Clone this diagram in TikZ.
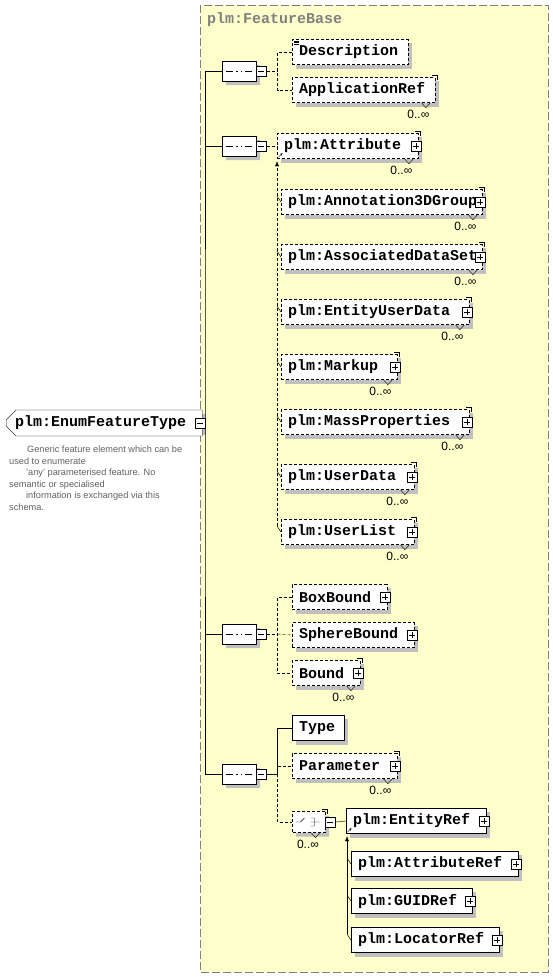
\documentclass[tikz,border=0pt]{standalone}
\usepackage{fontspec}
\setmainfont{Liberation Sans}
\newfontfamily\plmmono{Liberation Mono}
\usetikzlibrary{shapes.misc,arrows.meta}

\definecolor{fbyellow}{RGB}{255,255,204}
\definecolor{fbgray}{RGB}{128,128,128}
\definecolor{shgray}{RGB}{192,192,192}

\pgfdeclarelayer{back}
\pgfdeclarelayer{shade}
\pgfsetlayers{back,shade,main}

\tikzset{
  dsh/.style={dash pattern=on 3pt off 2pt},
  elem/.style={draw, fill=white, anchor=west, font=\plmmono\bfseries\fontsize{15}{15}\selectfont,
    minimum height=25pt, inner xsep=7pt, inner ysep=2pt, text width=#1, align=left},
  opt/.style={elem=#1, dsh},
  root/.style={draw, fill=white, anchor=west, chamfered rectangle, chamfered rectangle corners={north west,south west},
    chamfered rectangle xsep=5pt, chamfered rectangle ysep=5pt,
    font=\plmmono\bfseries\fontsize{15}{15}\selectfont, minimum height=20pt, inner xsep=4pt, inner ysep=1pt,
    text width=178pt, align=left},
  octa/.style={chamfered rectangle, chamfered rectangle xsep=7pt, chamfered rectangle ysep=7pt,
    minimum width=34pt, minimum height=20pt, inner sep=0pt},
  seqbox/.style={octa, draw, fill=white,
    path picture={
      \draw[solid] ([xshift=4pt]path picture bounding box.west) -- ([xshift=-4pt]path picture bounding box.east);
      \fill ([xshift=-4.2pt]path picture bounding box.center) +(-1.5pt,-1.5pt) rectangle +(1.5pt,1.5pt);
      \fill (path picture bounding box.center) +(-1.5pt,-1.5pt) rectangle +(1.5pt,1.5pt);
      \fill ([xshift=4.2pt]path picture bounding box.center) +(-1.5pt,-1.5pt) rectangle +(1.5pt,1.5pt);}},
  choice/.style={octa, draw, dsh, fill=white, minimum width=33pt, minimum height=21pt,
    path picture={
      \draw[solid] (path picture bounding box.center) +(-13pt,0pt) -- +(-8pt,0pt) -- +(-4pt,4pt)
        +(2pt,4pt) -- +(6pt,4pt) -- +(6pt,-4pt) -- +(2pt,-4pt) +(2pt,0pt) -- +(11pt,0pt);
      \fill (path picture bounding box.center) +(-1.5pt,2.5pt) rectangle +(1.5pt,5.5pt)
        +(-1.5pt,-1.5pt) rectangle +(1.5pt,1.5pt) +(-1.5pt,-5.5pt) rectangle +(1.5pt,-2.5pt);}},
  mbox/.style={draw, solid, fill=white, minimum size=10pt, inner sep=0pt,
    path picture={\draw ([xshift=2pt]path picture bounding box.west) -- ([xshift=-2pt]path picture bounding box.east);}},
  pbox/.style={draw, solid, fill=white, minimum size=10pt, inner sep=0pt,
    path picture={\draw ([xshift=2pt]path picture bounding box.west) -- ([xshift=-2pt]path picture bounding box.east)
      ([yshift=-2pt]path picture bounding box.north) -- ([yshift=2pt]path picture bounding box.south);}},
  card/.style={font=\fontsize{12}{12}\selectfont, inner sep=0pt},
  doc/.style={anchor=north west, font=\fontsize{9.2}{11.5}\selectfont, text=black!62, align=left, inner sep=0pt},
  fbframe/.style={fill=fbyellow, draw=fbgray, dash pattern=on 8pt off 3pt},
  fbtitle/.style={anchor=west, text=fbgray, font=\plmmono\bfseries\fontsize{15}{15}\selectfont, inner sep=0pt},
  subst/.style={-{Latex[length=5pt,width=4pt]}}
}

% plus box at the right end of an element
\newcommand\plusbox[1]{\node[pbox] (#1p) at ([xshift=-2pt]#1.east) {};}
% stacked corner, notch and 0..oo under an element
\newcommand\multi[1]{%
  \draw[solid] ([xshift=-3pt,yshift=2pt]#1.north east) -- ++(5pt,0pt) -- ++(0pt,-5pt);
  \draw[solid] ([xshift=-14pt]#1.south east) -- ++(4.5pt,-5pt) -- ++(4.5pt,5pt);
  \node[card] (#1c) at ([xshift=-17pt,yshift=-12pt]#1.south east) {0..∞};}

\begin{document}
\begin{tikzpicture}[x=1pt,y=-1pt,line width=0.8pt]
\useasboundingbox (0,0) rectangle (553,977);
\begin{pgfonlayer}{back}
\draw[fbframe] (200,5) rectangle (548,972);
\end{pgfonlayer}
\node[fbtitle] (fbtitle) at (207,20) {plm:FeatureBase};

% root element
\node[root] (root) at (6,423) {plm:EnumFeatureType};
\node[mbox] (rootm) at ([xshift=-2pt]root.east) {};
\node[doc] (rootdoc) at (9,446) {\hspace*{18pt}Generic feature element which can be\\used to enumerate\\
  \hspace*{17pt}'any' parameterised feature. No\\semantic or specialised\\
  \hspace*{17pt}information is exchanged via this\\schema.};
\coordinate (spine) at (205,423);

% first sequence
\node[seqbox] (seq1) at (239,71) {};
\node[mbox, anchor=west] (seq1m) at (seq1.east) {};
\node[opt=102pt] (desc) at (292,52) {Description};
\draw[line width=0.6pt] (desc.north west) ++(1.5pt,-1.5pt) -- ++(5pt,0pt) ++(-5pt,-1.8pt) -- ++(5pt,0pt) ++(-5pt,-1.8pt) -- ++(5pt,0pt);
\node[opt=129pt] (appref) at (292,90) {ApplicationRef};
\multi{appref}

% second sequence: substitution group
\node[seqbox] (seq2) at (239,146) {};
\node[mbox, anchor=west] (seq2m) at (seq2.east) {};
\node[opt=127pt] (attr) at (277,146) {plm:Attribute};
\plusbox{attr} \multi{attr}
\node[opt=187pt] (anno) at (281,202) {plm:Annotation3DGroup};
\plusbox{anno} \multi{anno}
\node[opt=187pt] (adata) at (281,257) {plm:AssociatedDataSet};
\plusbox{adata} \multi{adata}
\node[opt=174pt] (eud) at (281,312) {plm:EntityUserData};
\plusbox{eud} \multi{eud}
\node[opt=102pt] (markup) at (281,367) {plm:Markup};
\plusbox{markup} \multi{markup}
\node[opt=174pt] (mass) at (281,422) {plm:MassProperties};
\plusbox{mass} \multi{mass}
\node[opt=119pt] (udata) at (281,477) {plm:UserData};
\plusbox{udata} \multi{udata}
\node[opt=119pt] (ulist) at (281,532) {plm:UserList};
\plusbox{ulist} \multi{ulist}

% third sequence
\node[seqbox] (seq3) at (239,634) {};
\node[mbox, anchor=west] (seq3m) at (seq3.east) {};
\node[opt=81pt] (boxb) at (292,597) {BoxBound};
\plusbox{boxb}
\node[opt=108pt] (sphb) at (292,635) {SphereBound};
\plusbox{sphb}
\node[opt=54pt] (bound) at (292,673) {Bound};
\plusbox{bound} \multi{bound}

% fourth sequence
\node[seqbox] (seq4) at (239,774) {};
\node[mbox, anchor=west] (seq4m) at (seq4.east) {};
\node[elem=38pt] (type) at (292,728) {Type};
\node[opt=91pt] (param) at (292,766) {Parameter};
\plusbox{param} \multi{param}
\node[choice] (chc) at (308.5,822) {};
\node[mbox, anchor=west] (chcm) at (chc.east) {};
\multi{chc}
\node[elem=126pt] (eref) at (346,821) {plm:EntityRef};
\plusbox{eref}
\node[elem=153pt] (aref) at (351,864) {plm:AttributeRef};
\plusbox{aref}
\node[elem=107pt] (gref) at (351,901) {plm:GUIDRef};
\plusbox{gref}
\node[elem=134pt] (lref) at (351,940) {plm:LocatorRef};
\plusbox{lref}

% shadows
\begin{pgfonlayer}{shade}
\foreach \n in {root,desc,appref,attr,anno,adata,eud,markup,mass,udata,ulist,boxb,sphb,bound,type,param,eref,aref,gref,lref}
  \fill[shgray] ([shift={(4pt,-4pt)}]\n.south west) rectangle ([shift={(4pt,-4pt)}]\n.north east);
\foreach \n in {seq1,seq2,seq3,seq4}
  \node[octa, fill=shgray] (\n s) at ([shift={(4pt,-4pt)}]\n.center) {};
\node[octa, fill=shgray, minimum width=33pt, minimum height=21pt] (chcs) at ([shift={(4pt,-4pt)}]chc.center) {};
\end{pgfonlayer}

% connectors
\draw (rootm.east) -- (spine);
\draw (seq1.west) -| (spine) |- (seq4.west);
\draw (seq2.west) -- (seq2.west -| spine);
\draw (seq3.west) -- (seq3.west -| spine);

\draw[dsh] (seq1m.east) -- ++(11,0) coordinate (b1);
\draw[dsh] (desc.west) -| (b1) |- (appref.west);

\draw[dsh] (seq2m.east) -- (attr.west);
\coordinate (sub1) at ([yshift=-2.5pt]attr.south west);
\draw[dsh, subst] ([yshift=6pt]sub1 |- ulist.west) -- (sub1);
\draw[line width=0.5pt] (anno.west) -- ([yshift=6pt]sub1 |- anno.west);
\draw[line width=0.5pt] (adata.west) -- ([yshift=6pt]sub1 |- adata.west);
\draw[line width=0.5pt] (eud.west) -- ([yshift=6pt]sub1 |- eud.west);
\draw[line width=0.5pt] (markup.west) -- ([yshift=6pt]sub1 |- markup.west);
\draw[line width=0.5pt] (mass.west) -- ([yshift=6pt]sub1 |- mass.west);
\draw[line width=0.5pt] (udata.west) -- ([yshift=6pt]sub1 |- udata.west);
\draw[line width=0.5pt] (ulist.west) -- ([yshift=6pt]sub1 |- ulist.west);
\draw[-{Stealth[length=2.5pt,width=2.5pt]}] ([xshift=1.5pt,yshift=1.5pt]attr.south west) -- ++(4pt,4pt);

\draw[dsh] (seq3m.east) -- ++(11,0) coordinate (b3);
\draw[dsh] (boxb.west) -| (b3) |- (bound.west);
\draw[dsh] (b3) -- (sphb.west);

\draw (seq4m.east) -- ++(11,0) coordinate (b4);
\draw (type.west) -| (b4);
\draw[dsh] (b4) |- (chc.west);
\draw[dsh] (b4 |- param.west) -- (param.west);
\draw (chcm.east) -- (eref.west);
\coordinate (sub2) at ([xshift=1pt,yshift=-2.5pt]eref.south west);
\draw[subst] ([yshift=6pt]sub2 |- lref.west) -- (sub2);
\draw[line width=0.5pt] (aref.west) -- ([yshift=6pt]sub2 |- aref.west);
\draw[line width=0.5pt] (gref.west) -- ([yshift=6pt]sub2 |- gref.west);
\draw[line width=0.5pt] (lref.west) -- ([yshift=6pt]sub2 |- lref.west);
\draw[-{Stealth[length=2.5pt,width=2.5pt]}] ([xshift=1.5pt,yshift=1.5pt]eref.south west) -- ++(4pt,4pt);
\end{tikzpicture}
\end{document}
